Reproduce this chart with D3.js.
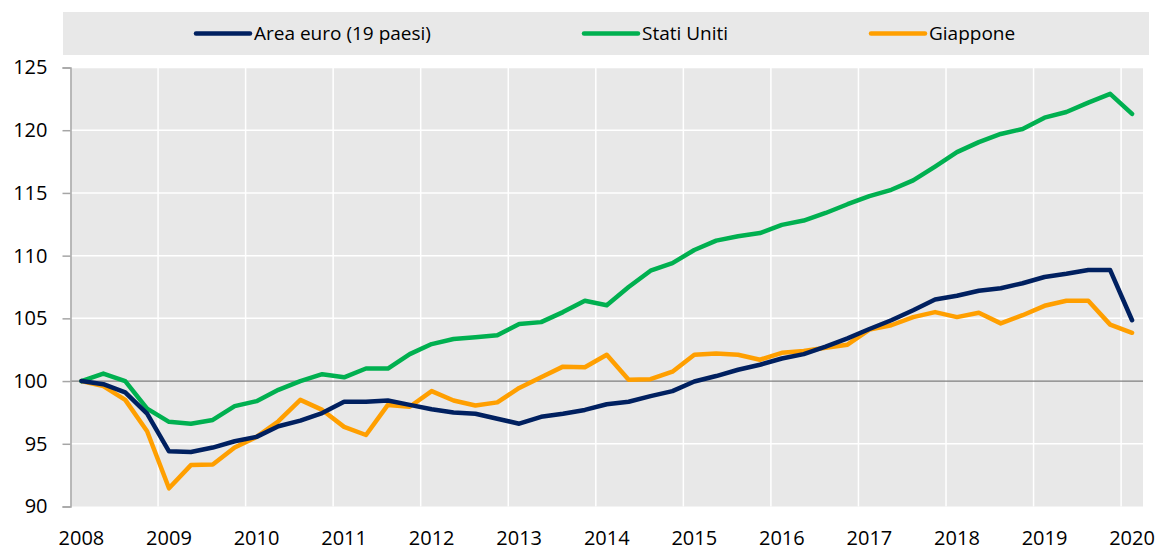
<!DOCTYPE html>
<html>
<head>
<meta charset="utf-8">
<script src="https://cdn.jsdelivr.net/npm/d3@7"></script>
<style>
  body { margin: 0; background: #fff; }
  text { font-family: "Open Sans", sans-serif; fill: #000; }
</style>
</head>
<body>
<svg width="1160" height="551"></svg>
<script>
// quarterly index, 2008Q1 = 100
var years = ["2008", "2009", "2010", "2011", "2012", "2013", "2014", "2015", "2016", "2017", "2018", "2019", "2020"];

var areaEuro = [100, 99.75, 99.1, 97.4, 94.4, 94.35, 94.7, 95.2, 95.55, 96.4, 96.85, 97.45, 98.35, 98.35, 98.45, 98.1,
  97.75, 97.5, 97.4, 97.0, 96.6, 97.15, 97.4, 97.7, 98.15, 98.35, 98.8, 99.2, 99.97, 100.4, 100.9, 101.3,
  101.8, 102.15, 102.75, 103.4, 104.15, 104.85, 105.65, 106.5, 106.8, 107.2, 107.4, 107.8, 108.3, 108.55, 108.85, 108.85,
  104.85];

var statiUniti = [100, 100.6, 100.0, 97.8, 96.75, 96.6, 96.9, 98.0, 98.4, 99.3, 100.0, 100.55, 100.3, 101.0, 101.0, 102.15,
  102.95, 103.35, 103.5, 103.65, 104.55, 104.7, 105.5, 106.4, 106.05, 107.5, 108.8, 109.4, 110.45, 111.2, 111.55, 111.8,
  112.45, 112.8, 113.4, 114.1, 114.75, 115.25, 116.0, 117.1, 118.25, 119.05, 119.7, 120.1, 121.0, 121.45, 122.2, 122.9,
  121.3];

var giappone = [100, 99.6, 98.5, 96.0, 91.45, 93.3, 93.35, 94.7, 95.55, 96.8, 98.5, 97.7, 96.35, 95.7, 98.1, 97.95,
  99.2, 98.45, 98.05, 98.3, 99.45, 100.3, 101.15, 101.1, 102.1, 100.1, 100.15, 100.75, 102.1, 102.2, 102.1, 101.7,
  102.25, 102.4, 102.65, 102.9, 104.1, 104.45, 105.1, 105.5, 105.1, 105.45, 104.6, 105.25, 106.0, 106.4, 106.4, 104.5,
  103.85];

var yTicks = [90, 95, 100, 105, 110, 115, 120, 125];

var series = [
  {name: "Area euro (19 paesi)", values: areaEuro, color: "#002060", lx: 196},
  {name: "Stati Uniti", values: statiUniti, color: "#00b050", lx: 584},
  {name: "Giappone", values: giappone, color: "#ff9f00", lx: 871}
];

var svg = d3.select("svg");

var plotL = 70.5, plotR = 1143, plotT = 67.5, plotB = 506.5;

// one slot per quarter, points at slot centres
var x = d3.scaleLinear().domain([0, 49]).range([plotL, plotR]);
var y = d3.scaleLinear().domain([90, 125]).range([plotB, plotT]);

// legend box
svg.append("rect")
  .attr("x", 63).attr("y", 12)
  .attr("width", 1086).attr("height", 43)
  .attr("fill", "#e8e8e8");

var leg = svg.selectAll(".leg")
  .data(series)
  .enter().append("g")
  .attr("class", "leg")
  .attr("transform", function(d) { return "translate(" + d.lx + ",33.5)"; });

leg.append("line")
  .attr("x1", 0).attr("x2", 54)
  .attr("stroke", function(d) { return d.color; })
  .attr("stroke-width", 4.5)
  .attr("stroke-linecap", "round");

leg.append("text")
  .attr("x", 58)
  .attr("dy", "0.35em")
  .style("font-size", "19px")
  .text(function(d) { return d.name; });

// plot background
svg.append("rect")
  .attr("x", plotL).attr("y", plotT)
  .attr("width", plotR - plotL).attr("height", plotB - plotT)
  .attr("fill", "#e8e8e8");

// vertical grid at year boundaries
svg.selectAll(".vgrid")
  .data(years.map(function(d, i) { return i * 4; }).filter(function(d) { return d > 0; }))
  .enter().append("line")
  .attr("class", "vgrid")
  .attr("x1", function(d) { return x(d); })
  .attr("x2", function(d) { return x(d); })
  .attr("y1", plotT).attr("y2", plotB)
  .attr("stroke", "#fff")
  .attr("stroke-width", 1.5);

// horizontal grid
svg.selectAll(".hgrid")
  .data(yTicks.filter(function(d) { return d != 90; }))
  .enter().append("line")
  .attr("class", "hgrid")
  .attr("x1", plotL).attr("x2", plotR)
  .attr("y1", function(d) { return y(d); })
  .attr("y2", function(d) { return y(d); })
  .attr("stroke", function(d) { return d == 100 ? "#7f7f7f" : "#fff"; })
  .attr("stroke-width", function(d) { return d == 100 ? 1.2 : 1.5; });

// y axis
var yAxis = d3.axisLeft(y)
  .tickValues(yTicks)
  .tickSize(8)
  .tickPadding(15);

var gy = svg.append("g")
  .attr("transform", "translate(" + plotL + ",0)")
  .call(yAxis);
gy.select(".domain").attr("stroke", "#a6a6a6").attr("stroke-width", 1.5);
gy.selectAll(".tick line").attr("stroke", "#a6a6a6").attr("stroke-width", 1.5);
gy.selectAll(".tick text")
  .style("font-family", "'Open Sans', sans-serif")
  .style("font-size", "20px")
  .attr("fill", "#000");

// year labels
svg.selectAll(".year")
  .data(years)
  .enter().append("text")
  .attr("class", "year")
  .attr("x", function(d, i) { return x(i * 4 + 0.5); })
  .attr("y", 545)
  .attr("text-anchor", "middle")
  .style("font-size", "20px")
  .text(function(d) { return d; });

// lines
var line = d3.line()
  .x(function(d, i) { return x(i + 0.5); })
  .y(function(d) { return y(d); });

svg.selectAll(".series")
  .data(series.slice().reverse())
  .enter().append("path")
  .attr("class", "series")
  .attr("d", function(d) { return line(d.values); })
  .attr("fill", "none")
  .attr("stroke", function(d) { return d.color; })
  .attr("stroke-width", 4.5)
  .attr("stroke-linejoin", "round")
  .attr("stroke-linecap", "round");
</script>
</body>
</html>
